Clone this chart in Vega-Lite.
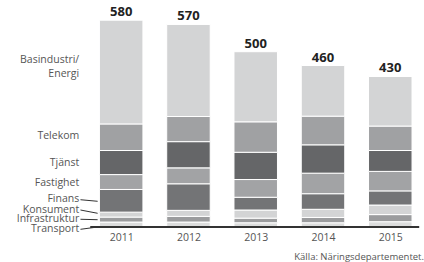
{
  "$schema": "https://vega.github.io/schema/vega-lite/v6.json",
  "width": 424,
  "height": 227,
  "autosize": {"type": "none"},
  "padding": {"left": 0, "top": 0, "right": 0, "bottom": 35},
  "config": {"font": "Open Sans", "view": {"stroke": null}},
  "title": {"text": "Källa: Näringsdepartementet.", "orient": "bottom", "anchor": "end", "fontSize": 9.5, "fontWeight": "normal", "color": "#555555", "offset": 9},
  "datasets": {
    "segments": [
      {"year": 2011, "sector": "Transport", "rank": 1, "value": 14},
      {"year": 2011, "sector": "Infrastruktur", "rank": 2, "value": 14},
      {"year": 2011, "sector": "Konsument", "rank": 3, "value": 14},
      {"year": 2011, "sector": "Finans", "rank": 4, "value": 64},
      {"year": 2011, "sector": "Fastighet", "rank": 5, "value": 42},
      {"year": 2011, "sector": "Tjänst", "rank": 6, "value": 68},
      {"year": 2011, "sector": "Telekom", "rank": 7, "value": 75},
      {"year": 2011, "sector": "Basindustri/Energi", "rank": 8, "value": 293},
      {"year": 2012, "sector": "Transport", "rank": 1, "value": 14},
      {"year": 2012, "sector": "Infrastruktur", "rank": 2, "value": 16},
      {"year": 2012, "sector": "Konsument", "rank": 3, "value": 17},
      {"year": 2012, "sector": "Finans", "rank": 4, "value": 75},
      {"year": 2012, "sector": "Fastighet", "rank": 5, "value": 45},
      {"year": 2012, "sector": "Tjänst", "rank": 6, "value": 74},
      {"year": 2012, "sector": "Telekom", "rank": 7, "value": 71},
      {"year": 2012, "sector": "Basindustri/Energi", "rank": 8, "value": 260},
      {"year": 2013, "sector": "Transport", "rank": 1, "value": 12},
      {"year": 2013, "sector": "Infrastruktur", "rank": 2, "value": 13},
      {"year": 2013, "sector": "Konsument", "rank": 3, "value": 23},
      {"year": 2013, "sector": "Finans", "rank": 4, "value": 36},
      {"year": 2013, "sector": "Fastighet", "rank": 5, "value": 50},
      {"year": 2013, "sector": "Tjänst", "rank": 6, "value": 77},
      {"year": 2013, "sector": "Telekom", "rank": 7, "value": 86},
      {"year": 2013, "sector": "Basindustri/Energi", "rank": 8, "value": 198},
      {"year": 2014, "sector": "Transport", "rank": 1, "value": 12},
      {"year": 2014, "sector": "Infrastruktur", "rank": 2, "value": 15},
      {"year": 2014, "sector": "Konsument", "rank": 3, "value": 23},
      {"year": 2014, "sector": "Finans", "rank": 4, "value": 44},
      {"year": 2014, "sector": "Fastighet", "rank": 5, "value": 58},
      {"year": 2014, "sector": "Tjänst", "rank": 6, "value": 80},
      {"year": 2014, "sector": "Telekom", "rank": 7, "value": 81},
      {"year": 2014, "sector": "Basindustri/Energi", "rank": 8, "value": 143},
      {"year": 2015, "sector": "Transport", "rank": 1, "value": 15},
      {"year": 2015, "sector": "Infrastruktur", "rank": 2, "value": 20},
      {"year": 2015, "sector": "Konsument", "rank": 3, "value": 27},
      {"year": 2015, "sector": "Finans", "rank": 4, "value": 40},
      {"year": 2015, "sector": "Fastighet", "rank": 5, "value": 55},
      {"year": 2015, "sector": "Tjänst", "rank": 6, "value": 59},
      {"year": 2015, "sector": "Telekom", "rank": 7, "value": 69},
      {"year": 2015, "sector": "Basindustri/Energi", "rank": 8, "value": 140}
    ],
    "totals": [
      {"year": 2011, "total": 580},
      {"year": 2012, "total": 570},
      {"year": 2013, "total": 500},
      {"year": 2014, "total": 460},
      {"year": 2015, "total": 430}
    ],
    "labels": [
      {"name": "Basindustri/\nEnergi", "pos": 472},
      {"name": "Telekom", "pos": 257},
      {"name": "Tjänst", "pos": 182},
      {"name": "Fastighet", "pos": 125},
      {"name": "Finans", "pos": 79},
      {"name": "Konsument", "pos": 49},
      {"name": "Infrastruktur", "pos": 22},
      {"name": "Transport", "pos": -6.5}
    ],
    "leaders": [
      {"name": "Finans", "from": 77, "to": 72.6},
      {"name": "Konsument", "from": 48, "to": 38.7},
      {"name": "Infrastruktur", "from": 21.8, "to": 20.6},
      {"name": "Transport", "from": -6.5, "to": 0}
    ]
  },
  "layer": [
    {
      "data": {"name": "segments"},
      "mark": {"type": "bar", "size": 43.5, "stroke": "white", "strokeWidth": 1},
      "encoding": {
        "x": {"field": "year", "type": "quantitative",
              "scale": {"domain": [2009.273, 2015.427], "nice": false, "zero": false},
              "axis": {"values": [2011, 2012, 2013, 2014, 2015], "format": "d", "domain": false, "ticks": false, "grid": false, "labelFontSize": 10.5, "labelColor": "#555555", "labelPadding": 5, "title": null}},
        "y": {"field": "value", "type": "quantitative", "stack": "zero", "scale": {"domain": [0, 641], "nice": false}, "axis": null},
        "color": {"field": "sector", "type": "nominal",
                  "scale": {"domain": ["Basindustri/Energi", "Telekom", "Tjänst", "Fastighet", "Finans", "Konsument", "Infrastruktur", "Transport"],
                            "range": ["#d3d4d5", "#a0a1a3", "#656668", "#a2a3a5", "#737476", "#d3d4d5", "#9b9c9e", "#dcdddd"]},
                  "legend": null},
        "order": {"field": "rank", "type": "quantitative", "sort": "ascending"}
      }
    },
    {
      "data": {"name": "segments"},
      "transform": [
        {"aggregate": [{"op": "sum", "field": "value", "as": "sum"}], "groupby": ["year"]},
        {"lookup": "year", "from": {"data": {"name": "totals"}, "key": "year", "fields": ["total"]}}
      ],
      "mark": {"type": "text", "dy": -8, "baseline": "middle", "fontSize": 13, "fontWeight": "bold", "color": "#222222"},
      "encoding": {
        "x": {"field": "year", "type": "quantitative"},
        "y": {"field": "sum", "type": "quantitative", "axis": null},
        "text": {"field": "total", "type": "quantitative"}
      }
    },
    {
      "data": {"name": "labels"},
      "mark": {"type": "text", "align": "right", "baseline": "middle", "fontSize": 10.5, "color": "#555555", "lineBreak": "\n", "lineHeight": 14},
      "encoding": {
        "x": {"datum": 2010.376, "type": "quantitative"},
        "y": {"field": "pos", "type": "quantitative", "axis": null},
        "text": {"field": "name", "type": "nominal"}
      }
    },
    {
      "data": {"name": "leaders"},
      "mark": {"type": "rule", "color": "#333333", "strokeWidth": 1},
      "encoding": {
        "x": {"datum": 2010.395, "type": "quantitative"},
        "x2": {"datum": 2010.65},
        "y": {"field": "from", "type": "quantitative", "axis": null},
        "y2": {"field": "to"}
      }
    },
    {
      "data": {"values": [{}]},
      "mark": {"type": "rule", "color": "#333333", "strokeWidth": 2},
      "encoding": {
        "x": {"datum": 2010.54, "type": "quantitative"},
        "x2": {"datum": 2015.43},
        "y": {"datum": 0, "type": "quantitative", "axis": null}
      }
    }
  ]
}
